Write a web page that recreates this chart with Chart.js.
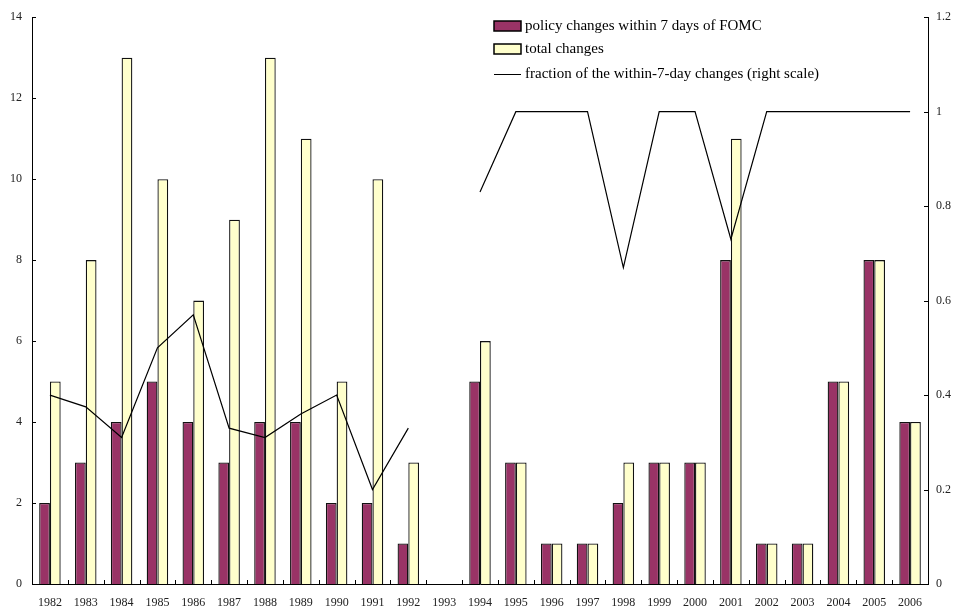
<!DOCTYPE html>
<html lang="en">
<head>
    <meta charset="UTF-8">
    <title>Policy changes within 7 days of FOMC</title>
    <script src="https://cdn.jsdelivr.net/npm/chart.js"></script>
    <style>
        body { margin: 0; background: #fff; }
        .wrap { width: 958px; height: 612px; }
    </style>
</head>
<body>
<div class="wrap"><canvas id="chart" width="958" height="612"></canvas></div>
<script>
    const years = ['1982', '1983', '1984', '1985', '1986', '1987', '1988', '1989', '1990', '1991', '1992', '1993',
        '1994', '1995', '1996', '1997', '1998', '1999', '2000', '2001', '2002', '2003', '2004', '2005', '2006'];
    const withinSeven = [2, 3, 4, 5, 4, 3, 4, 4, 2, 2, 1, 0, 5, 3, 1, 1, 2, 3, 3, 8, 1, 1, 5, 8, 4];
    const totalChanges = [5, 8, 13, 10, 7, 9, 13, 11, 5, 10, 3, 0, 6, 3, 1, 1, 3, 3, 3, 11, 1, 1, 5, 8, 4];
    const fractionWithin = [0.4, 0.375, 0.31, 0.5, 0.57, 0.33, 0.31, 0.36, 0.4, 0.2, 0.33, null,
        0.83, 1, 1, 1, 0.67, 1, 1, 0.73, 1, 1, 1, 1, 1];
    const legendLabels = ['policy changes within 7 days of FOMC', 'total changes', 'fraction of the within-7-day changes (right scale)'];

    const serif = '"Liberation Serif", "Times New Roman", serif';
    Chart.defaults.font.family = serif;
    Chart.defaults.color = '#222';

    // tick marks drawn inward: x ticks between years, y ticks at each value
    const innerTicks = {
        id: 'innerTicks',
        afterDraw(chart) {
            const { ctx, chartArea } = chart;
            const n = years.length;
            const step = (chartArea.right - chartArea.left) / n;
            ctx.save();
            ctx.strokeStyle = '#000';
            ctx.lineWidth = 1;
            ctx.beginPath();
            for (let i = 1; i < n; i++) {
                const x = Math.round(chartArea.left + i * step) + 0.5;
                ctx.moveTo(x, chartArea.bottom);
                ctx.lineTo(x, chartArea.bottom - 4);
            }
            const left = chart.scales.y, right = chart.scales.y1;
            left.ticks.forEach(t => {
                const y = Math.round(left.getPixelForValue(t.value)) + 0.5;
                ctx.moveTo(chartArea.left, y);
                ctx.lineTo(chartArea.left + 4, y);
            });
            right.ticks.forEach(t => {
                const y = Math.round(right.getPixelForValue(t.value)) + 0.5;
                ctx.moveTo(chartArea.right, y);
                ctx.lineTo(chartArea.right - 4, y);
            });
            ctx.stroke();
            ctx.restore();
        }
    };

    // legend box in the top right
    const boxLegend = {
        id: 'boxLegend',
        afterDraw(chart) {
            const ctx = chart.ctx;
            const x = 494, rows = [26, 49, 74];
            ctx.save();
            ctx.font = '15px ' + serif;
            ctx.textBaseline = 'middle';
            chart.data.datasets.forEach((ds, i) => {
                const y = rows[i];
                if (ds.type === 'line') {
                    ctx.strokeStyle = '#000';
                    ctx.lineWidth = 1;
                    ctx.beginPath();
                    ctx.moveTo(x, y + 0.5);
                    ctx.lineTo(x + 27, y + 0.5);
                    ctx.stroke();
                } else {
                    ctx.fillStyle = ds.backgroundColor;
                    ctx.fillRect(x, y - 5, 27, 10);
                    ctx.strokeStyle = '#000';
                    ctx.lineWidth = 1.5;
                    ctx.strokeRect(x, y - 5, 27, 10);
                }
                ctx.fillStyle = '#000';
                ctx.fillText(legendLabels[i], x + 31, y);
            });
            ctx.restore();
        }
    };

    new Chart(document.getElementById('chart'), {
        data: {
            labels: years,
            datasets: [
                {
                    type: 'bar',
                    data: withinSeven,
                    backgroundColor: '#993366',
                    borderColor: '#111',
                    borderWidth: 1.3,
                    categoryPercentage: 0.6,
                    barPercentage: 1,
                    yAxisID: 'y',
                    order: 2
                },
                {
                    type: 'bar',
                    data: totalChanges,
                    backgroundColor: '#FFFFCC',
                    borderColor: '#111',
                    borderWidth: 1.3,
                    categoryPercentage: 0.6,
                    barPercentage: 1,
                    yAxisID: 'y',
                    order: 2
                },
                {
                    type: 'line',
                    data: fractionWithin,
                    borderColor: '#000',
                    borderWidth: 1.2,
                    pointRadius: 0,
                    tension: 0,
                    spanGaps: false,
                    yAxisID: 'y1',
                    order: 1
                }
            ]
        },
        options: {
            responsive: false,
            animation: false,
            layout: { padding: { top: 11, left: 0, right: 0, bottom: 0 } },
            plugins: {
                legend: { display: false },
                tooltip: { enabled: false }
            },
            scales: {
                x: {
                    offset: true,
                    grid: { display: false, drawTicks: false },
                    border: { color: '#000', width: 1 },
                    ticks: { font: { size: 12 }, maxRotation: 0, autoSkip: false, padding: 12 },
                    afterFit(scale) { scale.height = 28; }
                },
                y: {
                    position: 'left',
                    min: 0,
                    max: 14,
                    ticks: { stepSize: 2, font: { size: 12 }, padding: 10 },
                    grid: { display: false, drawTicks: false },
                    border: { color: '#000', width: 1 },
                    afterFit(scale) { scale.width = 32; }
                },
                y1: {
                    position: 'right',
                    min: 0,
                    max: 1.2,
                    ticks: {
                        stepSize: 0.2,
                        font: { size: 12 },
                        padding: 8,
                        callback: (v) => String(Math.round(v * 10) / 10)
                    },
                    grid: { display: false, drawTicks: false },
                    border: { color: '#000', width: 1 },
                    afterFit(scale) { scale.width = 30; }
                }
            }
        },
        plugins: [innerTicks, boxLegend]
    });
</script>
</body>
</html>
